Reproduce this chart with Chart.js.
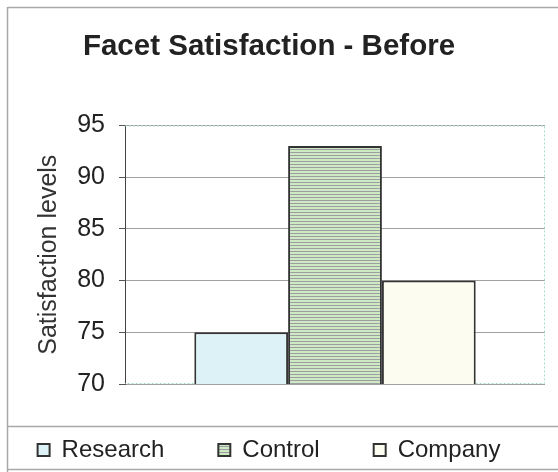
<!DOCTYPE html>
<html>
<head>
<meta charset="utf-8">
<script src="https://cdn.jsdelivr.net/npm/chart.js@4/dist/chart.umd.min.js"></script>
<style>
  html, body { margin: 0; padding: 0; background: #fff; }
  #wrap { width: 558px; height: 472px; position: relative; }
</style>
</head>
<body>
<div id="wrap"><canvas id="chart"></canvas></div>
<script>
const categories = ['Before'];
const seriesNames = ['Research', 'Control', 'Company'];
const seriesValues = [[75], [93], [80]];
const yTicks = [70, 75, 80, 85, 90, 95];

// horizontal green / grey stripes for the Control bar
function stripePattern() {
    const c = document.createElement('canvas');
    c.width = 4; c.height = 3;
    const g = c.getContext('2d');
    g.fillStyle = '#cdeac3';
    g.fillRect(0, 0, 4, 2);
    g.fillStyle = '#9e9da4';
    g.fillRect(0, 2, 4, 1);
    return g.createPattern(c, 'repeat');
}

const fills = ['#dcf2f6', stripePattern(), '#fdfcf1'];

// outer frame, legend separator and dotted plot border
const framePlugin = {
    id: 'frame',
    beforeDraw(chart) {
        const ctx = chart.ctx;
        ctx.save();
        ctx.fillStyle = '#fff';
        ctx.fillRect(0, 0, chart.width, chart.height);
        ctx.strokeStyle = '#a8a8a8';
        ctx.lineWidth = 1.5;
        ctx.beginPath();
        ctx.moveTo(8, 7.5); ctx.lineTo(558, 7.5);
        ctx.moveTo(7.5, 7); ctx.lineTo(7.5, 472);
        ctx.moveTo(7, 426.5); ctx.lineTo(558, 426.5);
        ctx.moveTo(7, 469.5); ctx.lineTo(558, 469.5);
        ctx.stroke();
        ctx.restore();
    },
    beforeDatasetsDraw(chart) {
        const a = chart.chartArea;
        const ctx = chart.ctx;
        ctx.save();
        ctx.strokeStyle = '#a9dcc6';
        ctx.lineWidth = 1;
        ctx.setLineDash([2, 2]);
        ctx.beginPath();
        ctx.moveTo(a.left, a.top + 0.5); ctx.lineTo(a.right - 0.5, a.top + 0.5);
        ctx.lineTo(a.right - 0.5, a.bottom - 0.5); ctx.lineTo(a.left, a.bottom - 0.5);
        ctx.stroke();
        ctx.restore();
    }
};

// empty scale used only to reserve a strip of space on the right
const rightGap = {
    display: true,
    position: 'right',
    ticks: { display: false },
    grid: { display: false },
    border: { display: false },
    afterFit(scale) { scale.width = 13; }
};

new Chart(document.getElementById('chart'), {
    type: 'bar',
    data: {
        labels: categories,
        datasets: seriesNames.map((name, i) => ({
            label: name,
            data: seriesValues[i],
            xAxisID: 'x',
            yAxisID: 'y',
            backgroundColor: fills[i],
            borderColor: '#333',
            borderWidth: 2,
            borderSkipped: false,
            barPercentage: 1,
            categoryPercentage: 0.67
        }))
    },
    options: {
        responsive: true,
        maintainAspectRatio: false,
        animation: false,
        // negative left padding moves the title and legend centre a little left
        layout: { padding: { top: 0, right: 0, bottom: 0, left: -20 } },
        plugins: {
            title: {
                display: true,
                text: 'Facet Satisfaction - Before',
                color: '#222',
                font: { family: 'Liberation Sans, Arial', size: 29.5, weight: 'bold' },
                padding: { top: 29, bottom: 61 }
            },
            legend: {
                position: 'bottom',
                labels: {
                    color: '#222',
                    font: { family: 'Liberation Sans, Arial', size: 24 },
                    boxWidth: 12,
                    boxHeight: 12,
                    padding: 54
                }
            },
            tooltip: { enabled: false }
        },
        scales: {
            x: { display: false },
            y: {
                min: 70,
                max: 95,
                afterBuildTicks(scale) {
                    scale.ticks = yTicks.map(v => ({ value: v }));
                },
                afterFit(scale) { scale.width = 145; },
                ticks: {
                    color: '#222',
                    font: { family: 'Liberation Sans, Arial', size: 25 },
                    padding: 14
                },
                grid: { color: '#a0a0a0', lineWidth: 1, tickLength: 6, drawTicks: true, tickColor: '#555' },
                border: { color: '#444', width: 1 },
                title: {
                    display: true,
                    text: 'Satisfaction levels',
                    color: '#333',
                    font: { family: 'Liberation Sans, Arial', size: 25 },
                    padding: { top: 54, bottom: 0 }
                }
            },
            gap: rightGap
        }
    },
    plugins: [framePlugin]
});
</script>
</body>
</html>
